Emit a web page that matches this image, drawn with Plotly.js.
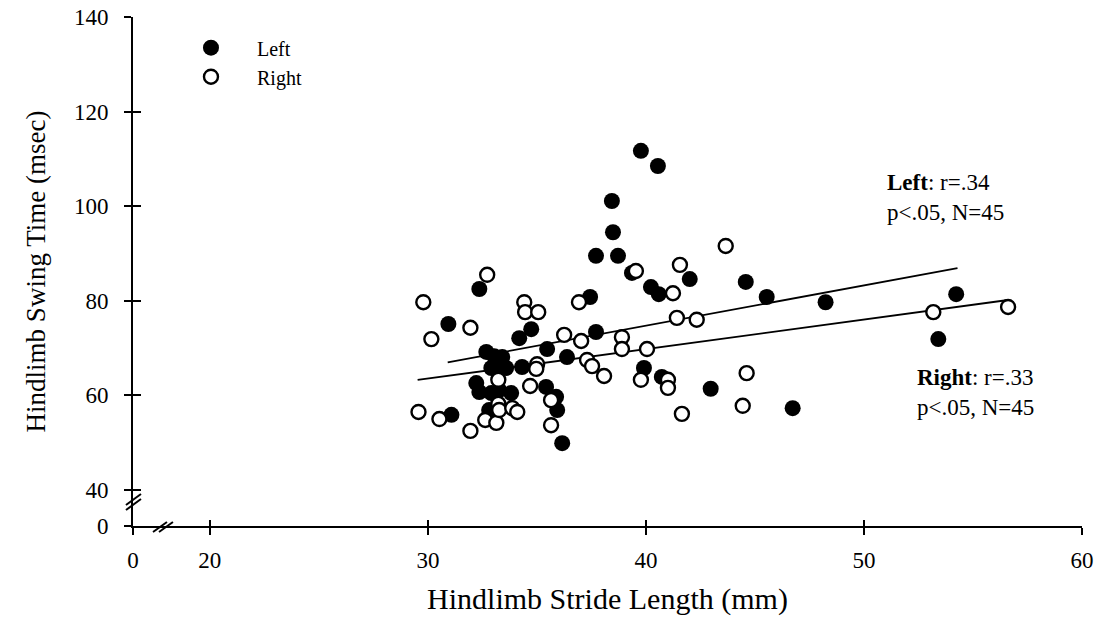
<!DOCTYPE html>
<html>
<head>
<meta charset="utf-8">
<script src="https://cdn.plot.ly/plotly-3.0.1.min.js"></script>
<style>html,body{margin:0;padding:0;background:#fff;}#chart{width:1107px;height:619px;}</style>
</head>
<body>
<div id="chart"></div>
<script>
// ---- Data ----
// Left hindlimb (filled circles)
const leftStride = [30.94,31.08,32.36,34.74,34.19,33.04,33.41,32.91,33.18,35.47,37.71,36.38,34.32,32.22,32.36,32.91,33.82,35.42,35.88,35.93,36.16,39.91,40.73,37.44,37.71,38.72,39.36,40.23,40.59,42.01,39.77,40.55,38.44,38.49,44.58,45.54,48.24,54.23,53.41,42.97,46.73,32.81,33.27,33.59,32.68];
const leftSwing  = [75.1,55.9,82.5,74.0,72.1,68.3,68.1,65.8,66.4,69.8,73.4,68.1,66.0,62.6,60.7,60.5,60.5,61.8,59.7,56.9,49.9,65.8,63.9,80.8,89.5,89.5,85.9,82.9,81.4,84.6,111.7,108.5,101.1,94.5,84.0,80.8,79.7,81.4,71.9,61.4,57.3,56.9,61.1,65.8,69.2];
// Right hindlimb (open circles)
const rightStride = [29.79,30.16,29.57,30.53,31.95,32.72,31.95,32.63,33.14,33.23,33.23,33.27,33.87,34.10,34.42,34.46,35.06,35.01,34.97,34.69,35.65,35.65,36.25,36.93,37.03,37.30,37.53,38.08,38.90,38.90,39.54,40.05,39.77,41.01,41.01,41.24,41.56,41.65,41.42,42.33,43.66,44.62,44.44,53.18,56.61];
const rightSwing  = [79.7,71.9,56.5,55.0,74.3,85.5,52.5,54.8,54.2,63.3,58.2,56.9,57.3,56.5,79.7,77.6,77.6,66.6,65.6,62.0,59.0,53.7,72.8,79.7,71.5,67.5,66.2,64.1,72.3,69.8,86.3,69.8,63.3,63.3,61.6,81.6,87.6,56.1,76.4,76.0,91.6,64.7,57.8,77.6,78.7];
// Regression lines (end points as drawn)
const leftFitX = [30.91, 54.29];
const leftFitY = [67.0, 86.9];
const rightFitX = [29.53, 56.61];
const rightFitY = [63.26, 80.17];
// Broken axes: the "0" labels sit at the start of each axis, before the break
const xTickVals = [16.476, 20, 30, 40, 50, 60];
const xTickText = ['0', '20', '30', '40', '50', '60'];
const yTickVals = [32.39, 40, 60, 80, 100, 120, 140];
const yTickText = ['0', '40', '60', '80', '100', '120', '140'];
const seriesNames = ['Left', 'Right'];
const statLeft = '<b>Left</b>: r=.34<br>p&lt;.05, N=45';
const statRight = '<b>Right</b>: r=.33<br>p&lt;.05, N=45';

// ---- Chart ----
const FONT = 'Liberation Serif, Times New Roman, serif';
const xRange = [16.476, 60];
const yRange = [32.39, 140];

const traces = [
  {x: leftFitX, y: leftFitY, mode: 'lines', line: {color: '#000', width: 1.8}, showlegend: false, hoverinfo: 'skip'},
  {x: rightFitX, y: rightFitY, mode: 'lines', line: {color: '#000', width: 1.8}, showlegend: false, hoverinfo: 'skip'},
  {x: leftStride, y: leftSwing, mode: 'markers', name: seriesNames[0],
   marker: {symbol: 'circle', size: 16, color: '#000', line: {color: '#000', width: 0}}},
  {x: rightStride, y: rightSwing, mode: 'markers', name: seriesNames[1],
   marker: {symbol: 'circle', size: 14, color: '#fff', line: {color: '#000', width: 2.4}}},
  {x: [], y: [], xaxis: 'x2', yaxis: 'y2', showlegend: false, hoverinfo: 'skip'}
];

const axisCommon = {
  showgrid: false, zeroline: false, showline: true, linecolor: '#000', linewidth: 2,
  ticks: 'outside', ticklen: 7, tickwidth: 2, tickcolor: '#000', tickmode: 'array',
  tickfont: {family: FONT, size: 23, color: '#000'}
};

const layout = {
  width: 1107, height: 619,
  margin: {l: 133, r: 25, t: 17, b: 93},
  paper_bgcolor: '#fff', plot_bgcolor: '#fff',
  font: {family: FONT, color: '#000'},
  showlegend: true,
  legend: {x: 0.0337, y: 0.978, xanchor: 'left', yanchor: 'top', bgcolor: 'rgba(0,0,0,0)',
           font: {family: FONT, size: 20, color: '#000'}, tracegroupgap: 0, itemwidth: 82},
  xaxis: Object.assign({}, axisCommon, {
    range: xRange, tickvals: xTickVals, ticktext: xTickText, ticklabelstandoff: 5,
    title: {text: 'Hindlimb Stride Length (mm)', font: {family: FONT, size: 30, color: '#000'}, standoff: 16}
  }),
  yaxis: Object.assign({}, axisCommon, {
    range: yRange, tickvals: yTickVals, ticktext: yTickText, ticklabelstandoff: 11,
    title: {text: 'Hindlimb Swing Time (msec)', font: {family: FONT, size: 27, color: '#000'}, standoff: 20}
  }),
  xaxis2: {overlaying: 'x', anchor: 'y2', range: xRange, tickmode: 'array', tickvals: xTickVals,
           ticks: 'inside', ticklen: 6, tickwidth: 2, tickcolor: '#000', showticklabels: false,
           showgrid: false, zeroline: false, showline: false},
  yaxis2: {overlaying: 'y', anchor: 'x2', side: 'left', range: yRange, tickmode: 'array', tickvals: yTickVals,
           ticks: 'inside', ticklen: 8, tickwidth: 2, tickcolor: '#000', showticklabels: false,
           showgrid: false, zeroline: false, showline: false},
  annotations: [
    {xref: 'x', yref: 'y', x: 50.98, y: 101.75, text: statLeft, showarrow: false, xanchor: 'left', yanchor: 'middle', align: 'left', font: {family: FONT, size: 23, color: '#000'}},
    {xref: 'x', yref: 'y', x: 52.36, y: 60.6, text: statRight, showarrow: false, xanchor: 'left', yanchor: 'middle', align: 'left', font: {family: FONT, size: 23, color: '#000'}}
  ],
  shapes: [
    // x-axis break marks
    {type: 'line', xref: 'paper', yref: 'paper', x0: 0.0211, y0: -0.0118, x1: 0.0358, y1: 0.0079, line: {color: '#000', width: 2}},
    {type: 'line', xref: 'paper', yref: 'paper', x0: 0.0274, y0: -0.0118, x1: 0.0421, y1: 0.0079, line: {color: '#000', width: 2}},
    // y-axis break marks
    {type: 'line', xref: 'paper', yref: 'paper', x0: -0.0074, y0: 0.0314, x1: 0.0084, y1: 0.053, line: {color: '#000', width: 2}},
    {type: 'line', xref: 'paper', yref: 'paper', x0: -0.0074, y0: 0.0413, x1: 0.0084, y1: 0.0629, line: {color: '#000', width: 2}}
  ]
};

Plotly.newPlot('chart', traces, layout, {displayModeBar: false, staticPlot: true});
</script>
</body>
</html>
